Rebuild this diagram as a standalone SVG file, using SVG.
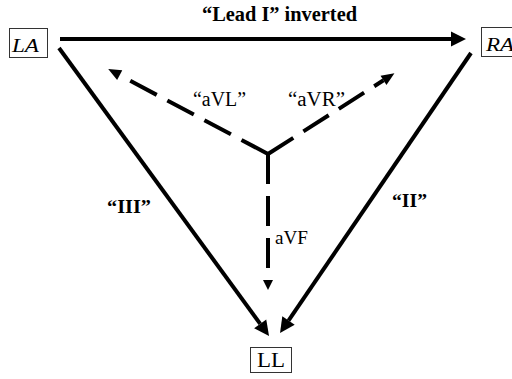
<svg xmlns="http://www.w3.org/2000/svg" width="512" height="379" viewBox="0 0 512 379">
<style>
.box{fill:#fff;stroke:#333;stroke-width:1}
text{font-family:'Liberation Serif','Times New Roman','DejaVu Serif',serif;fill:#000}
.it{font-style:italic}
.b{font-weight:bold}
.solid{fill:none;stroke:#000;stroke-width:4}
.dash{fill:none;stroke:#000;stroke-width:4;stroke-dasharray:30 12}
</style>
<defs>
<marker id="bighead" markerUnits="userSpaceOnUse" orient="auto" refX="0" refY="0" markerWidth="20" markerHeight="20" overflow="visible">
<path d="M0,-7.5 L15,0 L0,7.5 z" fill="#000"/>
</marker>
<marker id="dhead" markerUnits="userSpaceOnUse" orient="auto" refX="0" refY="0" markerWidth="20" markerHeight="20" overflow="visible">
<path d="M0,-5.5 L13,0 L0,5.5 z" fill="#000"/>
</marker>
<marker id="shead" markerUnits="userSpaceOnUse" orient="auto" refX="0" refY="0" markerWidth="20" markerHeight="20" overflow="visible">
<path d="M0,-5 L10,0 L0,5 z" fill="#000"/>
</marker>
</defs>
<g id="connectors">
<path class="solid" d="M60,39 L451,39" marker-end="url(#bighead)"/>
<path class="solid" d="M59,48 L260.2,323.9" marker-end="url(#bighead)"/>
<path class="solid" d="M471,53 L288.5,320.6" marker-end="url(#bighead)"/>
<path class="dash" d="M268,154 L119.7,75.2" marker-end="url(#dhead)"/>
<path class="dash" d="M268,154 L383.5,80.3" marker-end="url(#dhead)"/>
<path class="dash" d="M268,154 L268,280" marker-end="url(#shead)"/>
</g>
<g id="labels">
<text class="b" x="202" y="21" font-size="20" textLength="155" lengthAdjust="spacingAndGlyphs">“Lead I” inverted</text>
<text x="193" y="106" font-size="20" textLength="53" lengthAdjust="spacingAndGlyphs">“aVL”</text>
<text x="288" y="106" font-size="20" textLength="57" lengthAdjust="spacingAndGlyphs">“aVR”</text>
<text x="275" y="244" font-size="19" textLength="33" lengthAdjust="spacingAndGlyphs">aVF</text>
<text class="b" x="107" y="213" font-size="19" textLength="44" lengthAdjust="spacingAndGlyphs">“III”</text>
<text class="b" x="392" y="207" font-size="19" textLength="35" lengthAdjust="spacingAndGlyphs">“II”</text>
</g>
<g id="LA">
<rect class="box" x="9.5" y="28.5" width="38" height="29"/>
<text class="it" x="12" y="52" font-size="19" textLength="27" lengthAdjust="spacingAndGlyphs">LA</text>
</g>
<g id="RA">
<rect class="box" x="481.5" y="27.5" width="40" height="29"/>
<text class="it" x="486" y="51" font-size="19" textLength="28" lengthAdjust="spacingAndGlyphs">RA</text>
</g>
<g id="LL">
<rect class="box" x="250.5" y="347.5" width="41" height="25"/>
<text x="257" y="367" font-size="20" textLength="28" lengthAdjust="spacingAndGlyphs">LL</text>
</g>
</svg>
